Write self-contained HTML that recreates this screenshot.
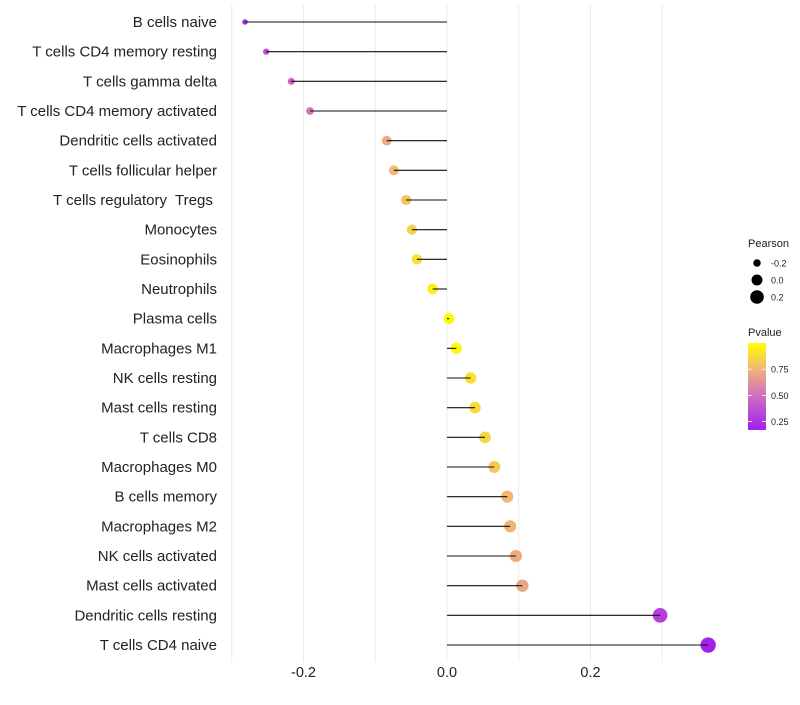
<!DOCTYPE html>
<html><head><meta charset="utf-8"><style>
body{margin:0;background:#fff;font-family:"Liberation Sans",sans-serif}
text{white-space:pre}
</style></head><body>
<svg id="chart" width="800" height="700" viewBox="0 0 800 700" xmlns="http://www.w3.org/2000/svg" font-family="Liberation Sans, sans-serif"></svg>
<script>
const categories=["B cells naive","T cells CD4 memory resting","T cells gamma delta","T cells CD4 memory activated","Dendritic cells activated","T cells follicular helper","T cells regulatory  Tregs ","Monocytes","Eosinophils","Neutrophils","Plasma cells","Macrophages M1","NK cells resting","Mast cells resting","T cells CD8","Macrophages M0","B cells memory","Macrophages M2","NK cells activated","Mast cells activated","Dendritic cells resting","T cells CD4 naive"];
const pearson=[-0.2815,-0.252,-0.217,-0.191,-0.084,-0.074,-0.057,-0.049,-0.042,-0.020,0.003,0.013,0.033,0.039,0.053,0.066,0.084,0.088,0.096,0.105,0.297,0.364];
const pvalue=[0.2,0.38,0.45,0.52,0.72,0.76,0.8,0.85,0.9,0.95,0.99,0.97,0.9,0.88,0.86,0.82,0.76,0.75,0.72,0.7,0.3,0.18];
const xTicks=[-0.2,0,0.2];
const xTickLabels=["-0.2","0.0","0.2"];
const gridVals=[-0.3,-0.2,-0.1,0,0.1,0.2,0.3];
const legendSizes=[-0.2,0,0.2];
const legendP=[0.75,0.5,0.25];

const svg=document.getElementById('chart');
const NS="http://www.w3.org/2000/svg";
const x=v=>447+v*717.5;
const y=i=>22+i*29.667;
const r=v=>Math.sqrt(Math.max(3,30+80*v));
const stops=[[0.17,[160,32,240]],[0.5,[207,112,190]],[0.75,[240,180,120]],[1.0,[255,255,0]]];
function col(p){
  if(p<=stops[0][0])return `rgb(${stops[0][1]})`;
  for(let k=1;k<stops.length;k++){if(p<=stops[k][0]){const a=stops[k-1],b=stops[k];const t=(p-a[0])/(b[0]-a[0]);return `rgb(${a[1].map((c,j)=>Math.round(c+(b[1][j]-c)*t))})`;}}
  return `rgb(${stops[3][1]})`;
}
function el(t,a,parent){const e=document.createElementNS(NS,t);for(const k in a)e.setAttribute(k,a[k]);(parent||svg).appendChild(e);return e;}

gridVals.forEach(v=>{
  const g=el('line',{x1:x(v),x2:x(v),y1:5,y2:662,stroke:'#ebebeb','stroke-width':1});
  
  
});
xTicks.forEach((v,i)=>{
  const t=el('text',{x:x(v),y:677,'text-anchor':'middle','font-size':14.5,fill:'#222'});
  t.textContent=xTickLabels[i];
  
  
});
categories.forEach((c,i)=>{
  const t=el('text',{x:217,y:y(i)+5,'text-anchor':'end','font-size':15,fill:'#222'});
  t.textContent=c;
  
  
  const d=el('circle',{cx:x(pearson[i]),cy:y(i),r:r(pearson[i]),fill:col(pvalue[i])});
  
  
  const l=el('line',{x1:x(0),x2:x(pearson[i]),y1:y(i),y2:y(i),stroke:'#111','stroke-width':1.1});
  
  
});
const lt=el('text',{x:748,y:247,'font-size':11,fill:'#222'});lt.textContent='Pearson';


legendSizes.forEach((v,i)=>{
  const cy=263+i*17;
  const c=el('circle',{cx:757,cy:cy,r:r(v),fill:'#000'});
  
  
  const t=el('text',{x:771,y:cy+3.5,'font-size':9,fill:'#222'});t.textContent=v===0?'0.0':String(v);
  
  
});
const pt=el('text',{x:748,y:336,'font-size':11,fill:'#222'});pt.textContent='Pvalue';


const defs=el('defs',{});
const lg=el('linearGradient',{id:'pg',x1:0,y1:1,x2:0,y2:0},defs);
stops.forEach(s=>el('stop',{offset:(s[0]-0.17)/0.83,'stop-color':`rgb(${s[1]})`},lg));
const bar=el('rect',{x:748,y:343,width:18,height:87,fill:'url(#pg)'});


const py=p=>430-(p-0.17)/0.83*87;
legendP.forEach(p=>{
  el('line',{x1:748,x2:752,y1:py(p),y2:py(p),stroke:'#fff','stroke-width':0.8});
  el('line',{x1:762,x2:766,y1:py(p),y2:py(p),stroke:'#fff','stroke-width':0.8});
  const t=el('text',{x:771,y:py(p)+3.5,'font-size':9,fill:'#222'});t.textContent=p.toFixed(2);
  
  
});
</script>
</body></html>
